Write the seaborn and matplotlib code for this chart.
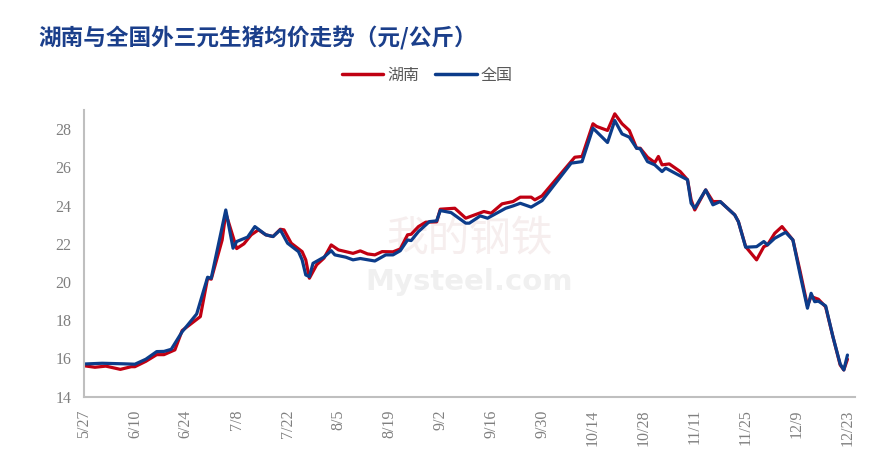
import numpy as np
import pandas as pd
import matplotlib
matplotlib.use("Agg")
import matplotlib.pyplot as plt
import matplotlib.dates as mdates
import seaborn as sns

# ---- data (day offsets from 2022-05-27, prices in yuan/kg) ----
start_date = "2022-05-27"

hunan_day = [0, 3, 6, 10, 13, 14, 17, 20, 22, 25, 27, 32, 34, 35, 38, 39, 42, 44, 46, 48,
             50, 52, 54, 55, 57, 60, 61, 62, 64, 66, 68, 70, 74, 76, 78, 80, 82, 85, 87, 89,
             90, 92, 94, 97, 98, 102, 105, 110, 112, 115, 118, 120, 123, 124, 126, 135, 137,
             140, 141, 144, 146, 148, 150, 152, 153, 155, 157, 158, 159, 161, 164, 166, 167,
             168, 171, 173, 175, 179, 180, 182, 185, 187, 188, 190, 192, 195, 197, 199, 200,
             202, 204, 206, 208, 209, 210]
hunan_price = [15.62, 15.54, 15.60, 15.43, 15.57, 15.57, 15.85, 16.20, 16.20, 16.45, 17.46,
               18.19, 20.20, 20.15, 22.20, 23.60, 21.75, 22.00, 22.47, 22.73, 22.47, 22.38,
               22.76, 22.73, 22.03, 21.59, 21.16, 20.20, 20.90, 21.25, 21.94, 21.68, 21.50,
               21.63, 21.47, 21.42, 21.59, 21.58, 21.73, 22.47, 22.50, 22.90, 23.13, 23.15,
               23.81, 23.86, 23.34, 23.69, 23.60, 24.09, 24.21, 24.44, 24.44, 24.30, 24.51,
               26.53, 26.57, 28.28, 28.14, 27.93, 28.80, 28.28, 27.93, 27.00, 27.00, 26.53,
               26.25, 26.57, 26.13, 26.18, 25.78, 25.35, 24.30, 23.77, 24.82, 24.21, 24.21,
               23.51, 23.16, 21.85, 21.16, 21.85, 21.94, 22.55, 22.90, 22.20, 20.54, 18.75,
               19.24, 19.10, 18.70, 17.14, 15.66, 15.40, 15.96]

national_day = [0, 5, 11, 14, 17, 20, 22, 24, 27, 28, 31, 34, 35, 39, 41, 42, 45, 47, 50, 52,
                54, 56, 59, 60, 61, 62, 63, 66, 68, 69, 72, 74, 76, 80, 83, 85, 87, 89, 90, 92,
                95, 97, 98, 101, 105, 106, 109, 111, 116, 118, 120, 123, 126, 134, 137, 140,
                144, 146, 148, 150, 152, 153, 155, 157, 159, 160, 164, 166, 167, 168, 171, 173,
                175, 179, 180, 182, 185, 187, 188, 190, 193, 195, 197, 199, 200, 201, 202, 204,
                206, 208, 209, 210]
national_price = [15.71, 15.75, 15.72, 15.70, 15.96, 16.36, 16.37, 16.48, 17.40, 17.63, 18.33,
                  20.25, 20.20, 23.77, 21.77, 22.12, 22.35, 22.90, 22.47, 22.38, 22.73, 22.03,
                  21.59, 21.16, 20.37, 20.28, 20.98, 21.30, 21.64, 21.42, 21.30, 21.16, 21.23,
                  21.10, 21.42, 21.42, 21.64, 22.20, 22.17, 22.64, 23.16, 23.20, 23.74, 23.63,
                  23.08, 23.08, 23.46, 23.34, 23.86, 23.98, 24.12, 23.92, 24.26, 26.22, 26.30,
                  28.05, 27.30, 28.45, 27.75, 27.58, 27.00, 26.97, 26.30, 26.13, 25.78, 25.96,
                  25.55, 25.35, 24.12, 23.86, 24.82, 24.04, 24.21, 23.51, 23.16, 21.82, 21.85,
                  22.12, 21.94, 22.29, 22.60, 22.20, 20.37, 18.63, 19.41, 18.97, 19.00, 18.75,
                  17.14, 15.71, 15.40, 16.18]

series_names = ["湖南", "全国"]
series_colors = ["#C00012", "#0C3C8A"]
y_ticks = [14, 16, 18, 20, 22, 24, 26, 28]
x_tick_days = [0, 14, 28, 42, 56, 70, 84, 98, 112, 126, 140, 154, 168, 182, 196, 210]
title_text = "湖南与全国外三元生猪均价走势（元/公斤）"

# ---- build table ----
t0 = pd.Timestamp(start_date)
df = pd.concat([
    pd.DataFrame({"date": t0 + pd.to_timedelta(hunan_day, unit="D"),
                  "price": hunan_price, "region": series_names[0]}),
    pd.DataFrame({"date": t0 + pd.to_timedelta(national_day, unit="D"),
                  "price": national_price, "region": series_names[1]}),
], ignore_index=True)

sns.set_theme(style="white")
plt.rcParams["font.family"] = ["Liberation Serif", "Noto Sans CJK SC", "DejaVu Sans"]

fig = plt.figure(figsize=(8.86, 4.63), dpi=100)
ax = fig.add_axes([0.0948, 0.1432, 0.8699, 0.6192])

# faint watermark
ax.text(0.50, 0.55, "我的钢铁", transform=ax.transAxes, ha="center", va="center",
        fontsize=30, color="#F6EEEE", family=["Noto Sans CJK SC"], zorder=0)
ax.text(0.50, 0.40, "Mysteel.com", transform=ax.transAxes, ha="center", va="center",
        fontsize=21, color="#F0F0F0", family="DejaVu Sans", fontweight="bold", zorder=0)

sns.lineplot(data=df, x="date", y="price", hue="region", hue_order=series_names,
             palette=series_colors, linewidth=2.3, ax=ax, legend=False,
             estimator=None, sort=True)

ax.set_ylim(14, 29)
ax.set_yticks(y_ticks)
ax.set_yticklabels([str(v) for v in y_ticks])
ax.set_xlim(t0, t0 + pd.Timedelta(days=212))
tick_dates = [t0 + pd.Timedelta(days=d) for d in x_tick_days]
ax.set_xticks(tick_dates)
ax.set_xticklabels([f"{d.month}/{d.day}" for d in tick_dates], rotation=90)

ax.set_xlabel("")
ax.set_ylabel("")
for side in ["top", "right"]:
    ax.spines[side].set_visible(False)
for side in ["left", "bottom"]:
    ax.spines[side].set_color("#BFBFBF")
    ax.spines[side].set_linewidth(1.5)
ax.tick_params(axis="both", which="both", colors="#BFBFBF", length=5, width=1.2,
               direction="out", labelcolor="#7F7F7F", labelsize=11.5)
ax.tick_params(axis="x", pad=4)
ax.tick_params(axis="y", pad=4)
ax.grid(False)

# title
fig.text(0.043, 0.918, title_text, ha="left", va="center", fontsize=16.3,
         fontweight="bold", color="#1B3F8B", family=["Noto Sans CJK SC"])

# legend
from matplotlib.lines import Line2D
handles = [Line2D([0], [0], color=c, lw=2.5) for c in series_colors]
leg = fig.legend(handles, series_names, loc="center", bbox_to_anchor=(0.482, 0.838),
                 ncol=2, frameon=False, handlelength=2.6, handletextpad=0.25,
                 columnspacing=1.0, prop={"family": "Noto Sans CJK SC", "size": 11.5})
for txt in leg.get_texts():
    txt.set_color("#595959")

fig.savefig("out.png", dpi=100)
